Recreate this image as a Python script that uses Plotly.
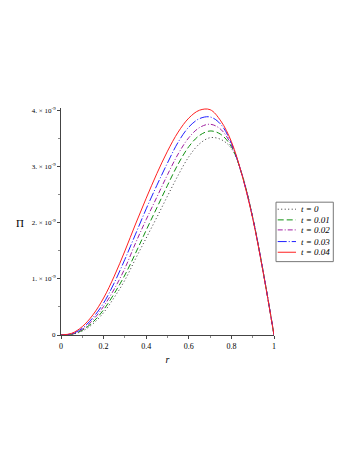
import plotly.graph_objects as go

# radial coordinate
r = [0, 0.05, 0.1, 0.15, 0.2, 0.25, 0.3, 0.35, 0.4, 0.45, 0.5,
     0.55, 0.6, 0.65, 0.7, 0.75, 0.8, 0.85, 0.9, 0.95, 1.0]

# Pi values in units of 1e-9
pi_t0 = [0, 0.01, 0.07, 0.20, 0.40, 0.67, 0.98, 1.36, 1.73, 2.10, 2.48,
         2.85, 3.18, 3.41, 3.52, 3.49, 3.33, 2.87, 2.10, 1.12, 0]
pi_t001 = [0, 0.012, 0.085, 0.23, 0.45, 0.74, 1.07, 1.46, 1.87, 2.27, 2.67,
           3.05, 3.36, 3.56, 3.64, 3.58, 3.36, 2.86, 2.10, 1.11, 0]
pi_t002 = [0, 0.015, 0.10, 0.27, 0.51, 0.82, 1.19, 1.64, 2.06, 2.46, 2.86,
           3.23, 3.52, 3.70, 3.76, 3.67, 3.39, 2.86, 2.09, 1.11, 0]
pi_t003 = [0, 0.02, 0.12, 0.31, 0.57, 0.93, 1.35, 1.80, 2.25, 2.67, 3.07,
           3.44, 3.71, 3.86, 3.89, 3.76, 3.42, 2.85, 2.09, 1.11, 0]
pi_t004 = [0, 0.03, 0.15, 0.36, 0.66, 1.05, 1.50, 1.98, 2.44, 2.88, 3.28,
           3.62, 3.87, 4.01, 4.02, 3.82, 3.45, 2.85, 2.08, 1.10, 0]

series_names = ["t = 0", "t = 0.01", "t = 0.02", "t = 0.03", "t = 0.04"]
series_vals = [pi_t0, pi_t001, pi_t002, pi_t003, pi_t004]

x_ticks = [0, 0.2, 0.4, 0.6, 0.8, 1]
x_ticktext = ["0", "0.2", "0.4", "0.6", "0.8", "1"]
y_ticks = [0, 1, 2, 3, 4]
y_ticktext = ["0", "1. × 10<sup>-9</sup>", "2. × 10<sup>-9</sup>",
              "3. × 10<sup>-9</sup>", "4. × 10<sup>-9</sup>"]

SCALE = 1e-9

colors = ["#333333", "#109010", "#a020a0", "#2020ff", "#ff2020"]
dashes = ["1px,2.5px", "6px,3px", "5px,2px,1px,2px", "9px,2px,1px,2px", "solid"]

fig = go.Figure()
for name, vals, c, d in zip(series_names, series_vals, colors, dashes):
    fig.add_trace(go.Scatter(
        x=r, y=[v * SCALE for v in vals], mode="lines",
        name=name, showlegend=False,
        line=dict(color=c, dash=d, width=1, shape="spline", smoothing=1.0),
    ))

serif = "Liberation Serif, Times New Roman, serif"
fig.update_layout(
    width=352, height=458,
    margin=dict(l=53, r=86, t=100, b=131, autoexpand=False),
    paper_bgcolor="white", plot_bgcolor="white",
    showlegend=False,
    font=dict(family=serif, size=8, color="black"),
)
fig.update_xaxes(
    range=[0, 1], tickvals=x_ticks, ticktext=x_ticktext,
    showline=True, linecolor="#444444", linewidth=1, showgrid=False,
    zeroline=False, ticks="outside", ticklen=3, tickcolor="#444444",
    minor=dict(dtick=0.1, ticks="outside", ticklen=2, tickcolor="#888888"),
    tickfont=dict(family=serif, size=8, color="black"),
    title=dict(text="<i>r</i>", font=dict(family=serif, size=10, color="black"),
               standoff=6),
    automargin=False,
)
fig.update_yaxes(
    range=[0, 4.05 * SCALE], tickvals=[v * SCALE for v in y_ticks],
    ticktext=y_ticktext,
    showline=True, linecolor="#444444", linewidth=1, showgrid=False,
    zeroline=False, ticks="outside", ticklen=3, tickcolor="#444444",
    minor=dict(dtick=0.5 * SCALE, ticks="outside", ticklen=2, tickcolor="#888888"),
    tickfont=dict(family=serif, size=7, color="black"),
    automargin=False,
)
fig.add_annotation(text="Π", xref="paper", yref="y", x=-0.1925, y=2.0 * SCALE,
                   xanchor="center", yanchor="middle", showarrow=False,
                   font=dict(family=serif, size=11, color="black"))

# legend box drawn in paper coordinates
fig.add_shape(type="rect", xref="paper", yref="paper",
              x0=1.0094, x1=1.2784, y0=0.3232, y1=0.5851,
              line=dict(color="#777777", width=1), fillcolor="white",
              layer="above")
row_y = [0.5542, 0.5071, 0.4630, 0.4116, 0.3646]
for name, c, d, yy in zip(series_names, colors, dashes, row_y):
    fig.add_shape(type="line", xref="paper", yref="paper",
                  x0=1.0174, x1=1.1033, y0=yy, y1=yy,
                  line=dict(color=c, dash=d, width=1), layer="above")
    fig.add_annotation(text="<i>" + name + "</i>", xref="paper", yref="paper",
                       x=1.1188, y=yy, xanchor="left", yanchor="middle",
                       showarrow=False,
                       font=dict(family=serif, size=9, color="black"))

fig.write_html("out.html")
